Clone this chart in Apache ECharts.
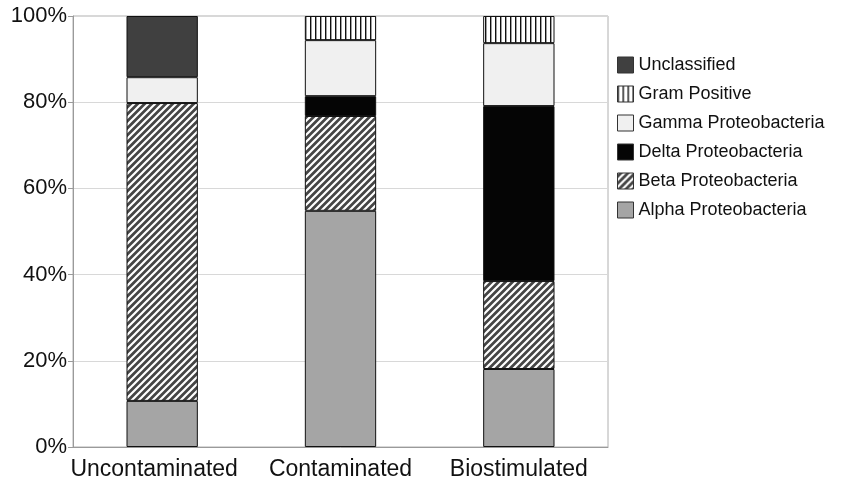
<!DOCTYPE html>
<html>
<head>
<meta charset="utf-8">
<script src="https://cdn.jsdelivr.net/npm/echarts@6/dist/echarts.min.js"></script>
<style>html,body{margin:0;padding:0;background:#fff;}#c{width:849px;height:484px;}</style>
</head>
<body>
<div id="c"></div>
<script>
var categories = ['Uncontaminated', 'Contaminated', 'Biostimulated'];
var alpha = [10.7, 54.8, 18.1];
var beta = [69.1, 22.0, 20.4];
var delta = ['-', 4.6, 40.6];
var gamma = [6.0, 13.0, 14.6];
var gram = ['-', 5.6, 6.3];
var unclassified = [14.2, '-', '-'];
var yTicks = [0, 20, 40, 60, 80, 100];

function hatch() {
  var s = 7, c = document.createElement('canvas');
  c.width = s; c.height = s;
  var g = c.getContext('2d');
  g.fillStyle = '#454545'; g.fillRect(0, 0, s, s);
  g.strokeStyle = '#ffffff'; g.lineWidth = 2.2;
  g.beginPath();
  g.moveTo(-1, s + 1); g.lineTo(s + 1, -1);
  g.moveTo(-1, 1); g.lineTo(1, -1);
  g.moveTo(s - 1, s + 1); g.lineTo(s + 1, s - 1);
  g.stroke();
  return c;
}
function vlines() {
  var w = 5, c = document.createElement('canvas');
  c.width = w; c.height = 10;
  var g = c.getContext('2d');
  g.fillStyle = '#ffffff'; g.fillRect(0, 0, w, 10);
  g.fillStyle = '#111111'; g.fillRect(0, 0, 1.4, 10);
  return c;
}
var hatchPat = { image: hatch(), repeat: 'repeat' };
var vPat = { image: vlines(), repeat: 'repeat' };

function ser(name, data, color) {
  return {
    name: name, type: 'bar', stack: 'all', data: data, barWidth: '40%',
    itemStyle: { color: color, borderColor: '#111', borderWidth: 1 }
  };
}

var chart = echarts.init(document.getElementById('c'));
chart.setOption({
  animation: false,
  backgroundColor: '#fff',
  textStyle: { fontFamily: 'Liberation Sans, Arial, sans-serif' },
  grid: { left: 73, right: 241, top: 16, bottom: 37, show: true, borderColor: '#b0b0b0', borderWidth: 1 },
  legend: {
    orient: 'vertical', left: 617, top: 56, padding: 0, icon: 'rect', itemWidth: 16, itemHeight: 16, itemGap: 11,
    textStyle: { fontSize: 18, color: '#111', fontFamily: 'Liberation Sans, Arial, sans-serif' },
    data: ['Unclassified', 'Gram Positive', 'Gamma Proteobacteria', 'Delta Proteobacteria', 'Beta Proteobacteria', 'Alpha Proteobacteria'],
    itemStyle: { borderColor: '#333', borderWidth: 1 }
  },
  xAxis: {
    type: 'category', data: categories,
    axisLine: { lineStyle: { color: '#9a9a9a' } },
    axisTick: { length: 5, lineStyle: { color: '#9a9a9a' } },
    axisLabel: {
      fontSize: 23, color: '#111', margin: 11, interval: 0,
      formatter: function (v, i) { return i === 0 ? '{a|' + v + '}' : v; },
      rich: { a: { fontSize: 23, color: '#111', padding: [0, 16, 0, 0] } }
    }
  },
  yAxis: {
    type: 'value', min: 0, max: 100, interval: 20,
    axisLine: { show: true, lineStyle: { color: '#9a9a9a' } },
    axisTick: { show: true, length: 5, lineStyle: { color: '#9a9a9a' } },
    splitLine: { lineStyle: { color: '#d8d8d8' } },
    axisLabel: { fontSize: 22, color: '#111', margin: 6, formatter: function (v) { return yTicks.indexOf(v) >= 0 ? v + '%' : ''; } }
  },
  series: [
    ser('Alpha Proteobacteria', alpha, '#a5a5a5'),
    ser('Beta Proteobacteria', beta, hatchPat),
    ser('Delta Proteobacteria', delta, '#050505'),
    ser('Gamma Proteobacteria', gamma, '#f0f0f0'),
    ser('Gram Positive', gram, vPat),
    ser('Unclassified', unclassified, '#404040')
  ]
});
</script>
</body>
</html>
